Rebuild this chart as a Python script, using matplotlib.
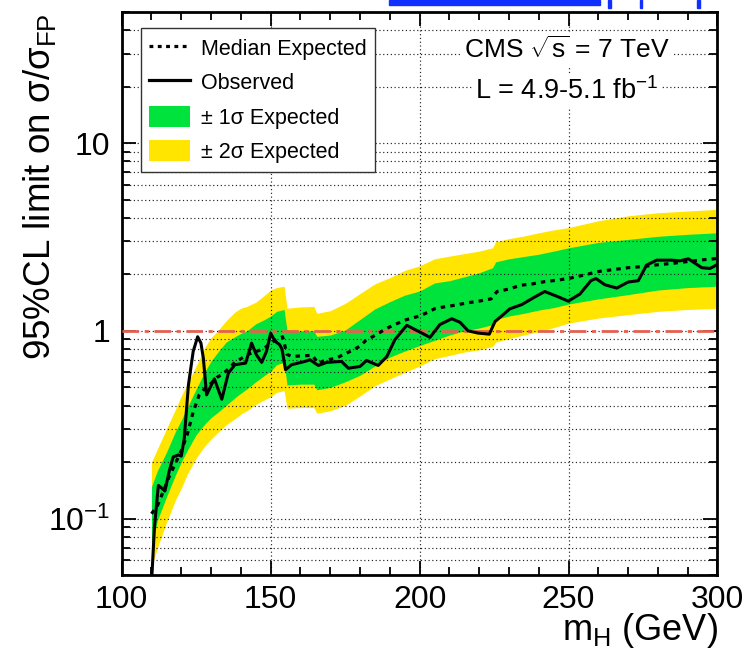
import matplotlib
matplotlib.use('Agg')
import matplotlib.pyplot as plt
from matplotlib.lines import Line2D
from matplotlib.patches import Patch, Rectangle
from matplotlib.ticker import MultipleLocator, LogLocator, FixedLocator, FixedFormatter, NullFormatter

plt.rcParams['font.family'] = ['Liberation Sans', 'DejaVu Sans']
plt.rcParams['mathtext.fontset'] = 'custom'
plt.rcParams['mathtext.rm'] = 'Liberation Sans'
plt.rcParams['mathtext.it'] = 'Liberation Sans:italic'
plt.rcParams['mathtext.bf'] = 'Liberation Sans:bold'

# expected median limit
exp_mass = [110, 112, 114, 116, 118, 120, 122, 124, 126, 128, 130, 132, 134, 136, 138,
            140, 142, 144, 146, 148, 150, 152, 154, 155.5, 157, 160, 164, 166, 168, 170,
            172, 175, 178, 180, 182, 185, 188, 190, 192, 195, 200, 203, 205, 208, 212,
            216, 220, 224, 226, 230, 234, 238, 242, 246, 250, 255, 260, 265, 270, 275,
            280, 285, 290, 295, 300]
exp_median = [0.106, 0.117, 0.14, 0.168, 0.196, 0.23, 0.28, 0.37, 0.455, 0.495, 0.525, 0.565,
              0.59, 0.63, 0.68, 0.71, 0.745, 0.765, 0.785, 0.81, 0.86, 0.9, 0.93, 0.75, 0.73,
              0.735, 0.74, 0.67, 0.695, 0.705, 0.715, 0.755, 0.795, 0.83, 0.89, 0.945, 1.01,
              1.05, 1.085, 1.14, 1.2, 1.26, 1.31, 1.34, 1.37, 1.41, 1.44, 1.48, 1.62, 1.67,
              1.75, 1.78, 1.83, 1.86, 1.9, 1.98, 2.07, 2.12, 2.17, 2.2, 2.25, 2.29, 2.34,
              2.39, 2.43]

# bands
band_mass = [110, 112, 115, 118, 120, 122, 125, 128, 130, 132, 135, 138, 140, 142, 145, 148,
             150, 152, 154.5, 155.5, 160, 164.5, 165.5, 170, 175, 180, 185, 190, 195, 200,
             205, 210, 215, 220, 224.5, 225.5, 230, 235, 240, 245, 250, 260, 270, 280, 290, 300]
two_sig_hi = [0.2, 0.235, 0.3, 0.38, 0.45, 0.52, 0.65, 0.82, 0.92, 0.99, 1.13, 1.26, 1.32, 1.35,
              1.42, 1.55, 1.65, 1.7, 1.73, 1.32, 1.34, 1.35, 1.24, 1.28, 1.4, 1.58, 1.78, 1.92,
              2.1, 2.22, 2.42, 2.5, 2.58, 2.66, 2.77, 2.98, 3.1, 3.2, 3.33, 3.45, 3.55, 3.86,
              4.1, 4.26, 4.35, 4.44]
one_sig_hi = [0.148, 0.18, 0.225, 0.29, 0.335, 0.39, 0.49, 0.61, 0.69, 0.76, 0.87, 0.93, 0.97,
              1.0, 1.09, 1.15, 1.2, 1.27, 1.3, 1.0, 1.0, 1.0, 0.935, 0.95, 1.01, 1.15, 1.31,
              1.43, 1.55, 1.63, 1.8, 1.85, 1.94, 2.04, 2.17, 2.33, 2.42, 2.49, 2.56, 2.66,
              2.77, 2.96, 3.07, 3.19, 3.27, 3.33]
one_sig_lo = [0.072, 0.098, 0.13, 0.17, 0.2, 0.23, 0.28, 0.32, 0.345, 0.365, 0.4, 0.44, 0.465,
              0.49, 0.535, 0.58, 0.61, 0.66, 0.68, 0.515, 0.52, 0.52, 0.485, 0.5, 0.535, 0.58,
              0.65, 0.725, 0.78, 0.835, 0.89, 0.95, 1.0, 1.035, 1.08, 1.15, 1.2, 1.24, 1.29,
              1.33, 1.39, 1.48, 1.56, 1.65, 1.7, 1.73]
two_sig_lo = [0.055, 0.07, 0.095, 0.125, 0.145, 0.172, 0.21, 0.245, 0.265, 0.285, 0.315, 0.34,
              0.36, 0.375, 0.405, 0.43, 0.445, 0.47, 0.48, 0.387, 0.39, 0.39, 0.364, 0.375,
              0.4, 0.45, 0.51, 0.555, 0.6, 0.65, 0.71, 0.74, 0.77, 0.793, 0.826, 0.87, 0.91,
              0.95, 0.99, 1.04, 1.1, 1.17, 1.22, 1.27, 1.3, 1.32]

# observed limit
obs_mass = [110, 111, 112.3, 113.5, 114.5, 116, 117.3, 119, 120, 121, 122.4, 124, 125.5, 126.6,
            127.4, 128.5, 131.1, 133.6, 135.8, 138, 141.6, 143.6, 145.2, 147, 148.6, 150,
            151.5, 153, 153.8, 155, 157, 161.5, 163.2, 166, 168.8, 173.8, 176.1, 180, 182.2,
            186.1, 189, 191.7, 195.7, 199.6, 203.5, 206.8, 210.8, 213.6, 216.3, 219.6, 223.4,
            225.3, 227, 230.3, 234.3, 238.2, 242, 246, 249.9, 253.8, 257.5, 259.2, 262.2,
            266.2, 270, 273.4, 276.2, 279.6, 284.6, 287.4, 290.2, 294.7, 297.5, 300]
obs_limit = [0.045, 0.09, 0.15, 0.145, 0.14, 0.18, 0.213, 0.218, 0.215, 0.267, 0.515, 0.777,
             0.93, 0.86, 0.716, 0.456, 0.555, 0.432, 0.595, 0.66, 0.673, 0.86, 0.746, 0.679,
             0.777, 0.97, 0.879, 0.844, 0.8, 0.62, 0.66, 0.687, 0.701, 0.654, 0.679, 0.687,
             0.632, 0.646, 0.695, 0.654, 0.73, 0.897, 1.07, 0.994, 0.923, 1.08, 1.16, 1.11,
             1.0, 0.973, 0.96, 1.12, 1.18, 1.31, 1.38, 1.5, 1.62, 1.53, 1.44, 1.57, 1.85, 1.9,
             1.76, 1.69, 1.82, 1.85, 2.24, 2.38, 2.38, 2.36, 2.42, 2.17, 2.15, 2.26]

GREEN = '#00e33c'
YELLOW = '#ffe500'
LINK_BLUE = '#1030ff'

fig = plt.figure(figsize=(7.46, 6.52), dpi=100)
ax = fig.add_axes([121.7 / 746, 77 / 652, 595.8 / 746, 563 / 652])

ax.fill_between(band_mass, two_sig_lo, two_sig_hi, color=YELLOW, lw=0, zorder=0.6)
ax.fill_between(band_mass, one_sig_lo, one_sig_hi, color=GREEN, lw=0, zorder=0.7)
ax.axhline(1.0, color='#e5604f', lw=2, ls=(0, (6, 2, 1.5, 2)), zorder=2.8)
ax.plot(exp_mass, exp_median, color='black', lw=2.3, ls=(0, (1.4, 1.6)), zorder=3)
ax.plot(obs_mass, obs_limit, color='black', lw=2.2, zorder=3.1)

ax.set_yscale('log')
ax.set_xlim(100, 300)
ax.set_ylim(0.05, 50)

ax.xaxis.set_major_locator(MultipleLocator(50))
ax.xaxis.set_minor_locator(MultipleLocator(10))
ax.yaxis.set_major_locator(FixedLocator([0.1, 1, 10]))
ax.yaxis.set_major_formatter(FixedFormatter(['10$^{-1}$', '1', '10']))
ax.yaxis.set_minor_locator(LogLocator(base=10, subs=[2, 3, 4, 5, 6, 7, 8, 9]))
ax.yaxis.set_minor_formatter(NullFormatter())

ax.tick_params(which='both', direction='in', top=True, right=True, width=1.3)
ax.tick_params(axis='x', which='major', length=10, labelsize=23, pad=7)
ax.tick_params(axis='x', which='minor', length=6)
ax.tick_params(axis='y', which='major', length=10, labelsize=23, pad=8)
ax.tick_params(axis='y', which='minor', length=6)
for sp in ax.spines.values():
    sp.set_linewidth(2)

ax.set_axisbelow('line')
ax.grid(True, axis='y', which='both', color='#222222', lw=0.85, ls=(0, (1, 2.2)))
ax.grid(True, axis='x', which='major', color='#222222', lw=0.85, ls=(0, (1, 2.2)))

handles = [
    Line2D([], [], color='black', lw=2.3, ls=(0, (1.2, 1.4))),
    Line2D([], [], color='black', lw=2.3),
    Patch(facecolor=GREEN, edgecolor='none'),
    Patch(facecolor=YELLOW, edgecolor='none'),
]
labels = ['Median Expected', 'Observed', '± 1σ Expected', '± 2σ Expected']
leg = ax.legend(handles, labels, loc='upper left', bbox_to_anchor=(0.032, 0.971),
                borderaxespad=0, fontsize=15.5, frameon=True, fancybox=False,
                framealpha=1, edgecolor='#333333', handlelength=1.9, handleheight=1.1,
                labelspacing=0.55, borderpad=0.4, handletextpad=0.5)
leg.get_frame().set_linewidth(1.0)

ax.text(0.747, 0.9325, r'CMS $\sqrt{\mathrm{s}}$ = 7 TeV', transform=ax.transAxes,
        ha='center', va='center', fontsize=19, zorder=6,
        bbox=dict(fc='white', ec='none', pad=2))
ax.text(0.747, 0.860, r'L = 4.9-5.1 fb$^{-1}$', transform=ax.transAxes,
        ha='center', va='center', fontsize=19.5, zorder=6,
        bbox=dict(fc='white', ec='none', pad=2))

ax.text(1.0, -0.115, r'm$_{\mathrm{H}}$ (GeV)', transform=ax.transAxes,
        ha='right', va='baseline', fontsize=26)
fig.text(40 / 746, 1 - 187 / 652, r'95%CL limit on σ/σ$_{\mathrm{FP}}$', rotation=90,
         ha='center', va='center', fontsize=26.5)

# cropped link bar and bracket remnants at the very top of the picture
fig.patches.append(Rectangle((389 / 746, 1 - 5 / 652), 211 / 746, 5 / 652,
                             transform=fig.transFigure, color=LINK_BLUE))
for bx, bw in [(608, 3), (640, 2), (697, 3)]:
    fig.patches.append(Rectangle((bx / 746, 1 - 8 / 652), bw / 746, 8 / 652,
                                 transform=fig.transFigure, color=LINK_BLUE))

fig.savefig('out.png', dpi=100)
